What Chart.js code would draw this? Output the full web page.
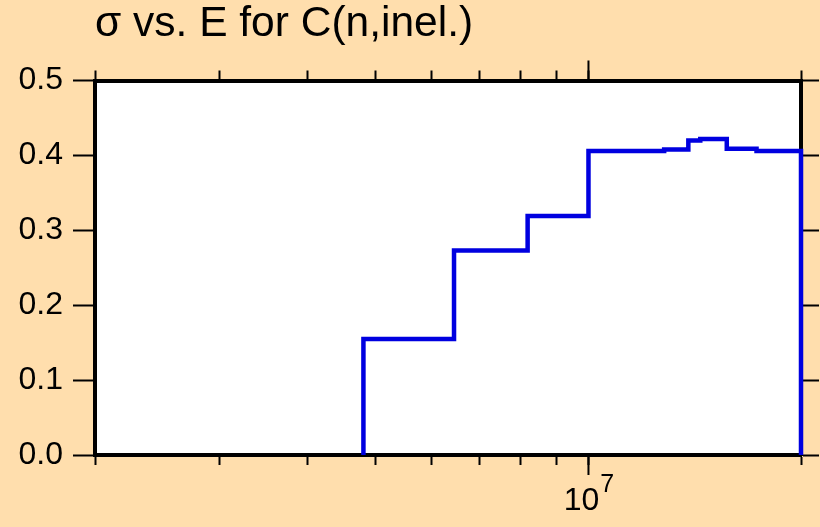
<!DOCTYPE html>
<html>
<head>
<meta charset="utf-8">
<script src="https://cdn.jsdelivr.net/npm/chart.js@4"></script>
<style>
  html, body { margin: 0; padding: 0; background: #ffdead; }
  #wrap { width: 820px; height: 527px; position: relative; }
</style>
</head>
<body>
<div id="wrap"><canvas id="xs-chart"></canvas></div>
<script>
// bin edges (eV) and cross section in each bin (barns)
const binEdges = [4.8e6, 6.45e6, 8.2e6, 1.0e7, 1.28e7, 1.385e7, 1.44e7, 1.57e7, 1.73e7, 2.0e7];
const sigma = [0.155, 0.273, 0.319, 0.406, 0.408, 0.420, 0.422, 0.409, 0.406];

const xTickValues = [2e6, 3e6, 4e6, 5e6, 6e6, 7e6, 8e6, 9e6, 1e7, 2e7];
const xMajorTick = { value: 1e7, base: "10", exp: "7" };
const titleText = "σ vs. E for C(n,inel.)";

const FONT = "'Liberation Sans', Arial, Helvetica, sans-serif";

// histogram outline: start at 0, one point per bin, back to 0 at the end
const points = [{ x: binEdges[0], y: 0 }]
  .concat(sigma.map((s, i) => ({ x: binEdges[i], y: s })))
  .concat([{ x: binEdges[binEdges.length - 1], y: 0 }]);

const setTicks = (scale) => {
  scale.ticks = xTickValues.map((value) => ({ value }));
};

const frameGrid = (tickLength) => ({
  display: true,
  drawOnChartArea: false,
  drawTicks: true,
  tickLength,
  tickWidth: 2,
  tickColor: "#000",
  color: "#000",
});

const border = { display: true, color: "#000", width: 4 };

const paperPlugin = {
  id: "paper",
  beforeDraw(chart) {
    const { ctx, chartArea: a } = chart;
    ctx.save();
    ctx.fillStyle = "#ffdead";
    ctx.fillRect(0, 0, chart.width, chart.height);
    ctx.fillStyle = "#fff";
    ctx.fillRect(a.left, a.top, a.right - a.left, a.bottom - a.top);
    ctx.restore();
  },
  afterDraw(chart) {
    const { ctx, chartArea: a } = chart;
    const px = chart.scales.x.getPixelForValue(xMajorTick.value);
    ctx.save();
    ctx.strokeStyle = "#000";
    ctx.lineWidth = 2;
    ctx.beginPath();
    ctx.moveTo(px, a.bottom);
    ctx.lineTo(px, a.bottom + 20);
    ctx.moveTo(px, a.top);
    ctx.lineTo(px, a.top - 20);
    ctx.stroke();

    // 10^7 label
    ctx.fillStyle = "#000";
    ctx.textBaseline = "alphabetic";
    ctx.font = "32px " + FONT;
    const wBase = ctx.measureText(xMajorTick.base).width;
    ctx.font = "25px " + FONT;
    const wExp = ctx.measureText(xMajorTick.exp).width;
    const x0 = px - (wBase + wExp) / 2;
    ctx.font = "32px " + FONT;
    ctx.fillText(xMajorTick.base, x0, a.bottom + 55);
    ctx.font = "25px " + FONT;
    ctx.fillText(xMajorTick.exp, x0 + wBase + 1, a.bottom + 37);
    ctx.restore();
  },
};

new Chart(document.getElementById("xs-chart").getContext("2d"), {
  type: "line",
  data: {
    datasets: [
      {
        data: points,
        stepped: "before",
        borderColor: "#0000e0",
        borderWidth: 4.5,
        pointRadius: 0,
        fill: false,
        clip: false,
      },
    ],
  },
  options: {
    responsive: true,
    maintainAspectRatio: false,
    animation: false,
    layout: { padding: 0 },
    scales: {
      x: {
        type: "logarithmic",
        position: "bottom",
        min: 2e6,
        max: 2e7,
        afterBuildTicks: setTicks,
        afterFit: (scale) => { scale.height = 72; },
        ticks: { display: false, autoSkip: false },
        grid: frameGrid(10),
        border,
      },
      x2: {
        type: "logarithmic",
        position: "top",
        min: 2e6,
        max: 2e7,
        afterBuildTicks: setTicks,
        afterFit: (scale) => { scale.height = 20; },
        ticks: { display: false, autoSkip: false },
        grid: frameGrid(10),
        border,
      },
      y: {
        position: "left",
        min: 0,
        max: 0.5,
        afterFit: (scale) => { scale.width = 95; },
        ticks: {
          stepSize: 0.1,
          padding: 10,
          color: "#000",
          font: { family: FONT, size: 32 },
          callback: (v) => v.toFixed(1),
        },
        grid: frameGrid(22),
        border,
      },
      y2: {
        position: "right",
        min: 0,
        max: 0.5,
        afterFit: (scale) => { scale.width = 19; },
        ticks: { display: false, stepSize: 0.1 },
        grid: frameGrid(18),
        border,
      },
    },
    plugins: {
      legend: { display: false },
      tooltip: { enabled: false },
      title: {
        display: true,
        text: titleText,
        align: "start",
        fullSize: false,
        color: "#000",
        font: { family: FONT, size: 42.5, weight: "normal", lineHeight: 1 },
        padding: { top: 3, bottom: 15 },
      },
    },
  },
  plugins: [paperPlugin],
});
</script>
</body>
</html>
